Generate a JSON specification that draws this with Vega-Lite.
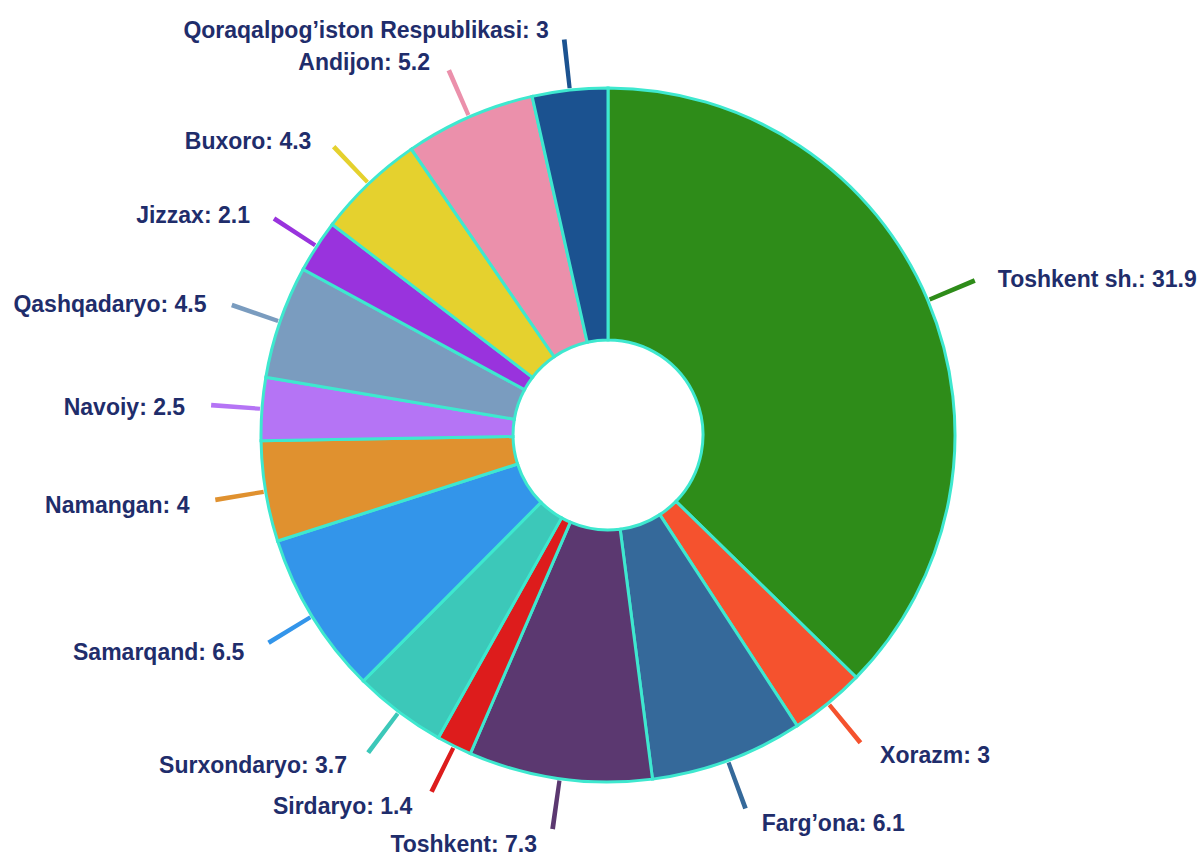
{
  "$schema": "https://vega.github.io/schema/vega-lite/v6.json",
  "width": 1178,
  "height": 842,
  "padding": {"left": 19, "top": 14, "right": 0, "bottom": 0},
  "autosize": {"type": "none"},
  "background": "white",
  "config": {"view": {"stroke": null}},
  "data": {
    "values": [
      {"order": 1, "name": "Toshkent sh.", "value": 31.9},
      {"order": 2, "name": "Xorazm", "value": 3},
      {"order": 3, "name": "Farg’ona", "value": 6.1},
      {"order": 4, "name": "Toshkent", "value": 7.3},
      {"order": 5, "name": "Sirdaryo", "value": 1.4},
      {"order": 6, "name": "Surxondaryo", "value": 3.7},
      {"order": 7, "name": "Samarqand", "value": 6.5},
      {"order": 8, "name": "Namangan", "value": 4},
      {"order": 9, "name": "Navoiy", "value": 2.5},
      {"order": 10, "name": "Qashqadaryo", "value": 4.5},
      {"order": 11, "name": "Jizzax", "value": 2.1},
      {"order": 12, "name": "Buxoro", "value": 4.3},
      {"order": 13, "name": "Andijon", "value": 5.2},
      {"order": 14, "name": "Qoraqalpog’iston Respublikasi", "value": 3}
    ]
  },
  "transform": [
    {"joinaggregate": [{"op": "sum", "field": "value", "as": "total"}]},
    {"window": [{"op": "sum", "field": "value", "as": "cum"}], "sort": [{"field": "order", "order": "ascending"}], "frame": [null, 0]},
    {"calculate": "(datum.cum - datum.value / 2) / datum.total * 2 * PI", "as": "mid"},
    {"calculate": "datum.mid - 0.006", "as": "t0"},
    {"calculate": "datum.mid + 0.006", "as": "t1"},
    {"calculate": "datum.name + ': ' + datum.value", "as": "label"}
  ],
  "layer": [
    {
      "mark": {"type": "arc", "innerRadius": 349, "outerRadius": 398},
      "encoding": {
        "theta": {"field": "t0", "type": "quantitative", "scale": null, "stack": null},
        "theta2": {"field": "t1"},
        "color": {"field": "name", "type": "nominal", "legend": null,
          "scale": {
            "domain": ["Toshkent sh.", "Xorazm", "Farg’ona", "Toshkent", "Sirdaryo", "Surxondaryo", "Samarqand", "Namangan", "Navoiy", "Qashqadaryo", "Jizzax", "Buxoro", "Andijon", "Qoraqalpog’iston Respublikasi"],
            "range": ["#2e8c19", "#f5522e", "#35699a", "#5b3870", "#dd1c1c", "#3cc8b9", "#3395ea", "#e0912f", "#b574f5", "#7a9cbf", "#9933dd", "#e5d12e", "#eb90ab", "#1b5290"]
          }
        }
      }
    },
    {
      "mark": {"type": "arc", "innerRadius": 95, "outerRadius": 347, "stroke": "#3ee8cf", "strokeWidth": 3},
      "encoding": {
        "theta": {"field": "value", "type": "quantitative", "stack": true},
        "order": {"field": "order", "type": "quantitative"},
        "color": {"field": "name", "type": "nominal", "legend": null}
      }
    },
    {
      "transform": [{"filter": "datum.mid < PI"}],
      "mark": {"type": "text", "radius": 410, "align": "left", "baseline": "middle", "dx": 12, "dy": 4, "font": "Liberation Sans", "fontWeight": "bold", "fontSize": 23, "fill": "#1f2d6b"},
      "encoding": {
        "theta": {"field": "mid", "type": "quantitative", "scale": null, "stack": null},
        "text": {"field": "label"}
      }
    },
    {
      "transform": [{"filter": "datum.mid >= PI"}],
      "mark": {"type": "text", "radius": 410, "align": "right", "baseline": "middle", "dx": -14, "dy": 4, "font": "Liberation Sans", "fontWeight": "bold", "fontSize": 23, "fill": "#1f2d6b"},
      "encoding": {
        "theta": {"field": "mid", "type": "quantitative", "scale": null, "stack": null},
        "text": {"field": "label"}
      }
    }
  ]
}
